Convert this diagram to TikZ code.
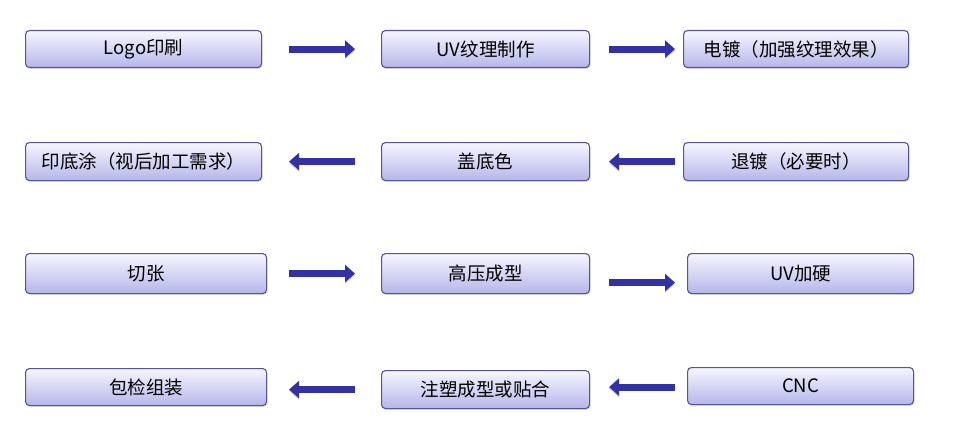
\documentclass[tikz,border=0pt]{standalone}
\usepackage{fontspec}
\setmainfont{Noto Sans CJK SC}
\usepackage{tikz}
\usetikzlibrary{arrows.meta,shadows}
\definecolor{boxline}{RGB}{84,84,150}
\definecolor{boxtop}{RGB}{246,246,255}
\definecolor{boxbottom}{RGB}{182,182,234}
\definecolor{arrowblue}{RGB}{50,50,165}
\tikzset{
    stepbox/.style={draw=boxline,line width=1.1pt,rounded corners=4pt,
        top color=boxtop,bottom color=boxbottom,anchor=north west,
        drop shadow={shadow xshift=1pt,shadow yshift=-1.5pt,opacity=0.25},
        inner sep=0pt,font=\fontsize{18.5}{22}\selectfont},
    flowarrow/.style={arrowblue,line width=7pt,-{Triangle[length=10pt,width=17pt]},
        preaction={draw=black,opacity=0.2,transform canvas={yshift=-1.5pt}}}
}

\begin{document}
\begin{tikzpicture}[x=1pt,y=-1pt]
                \useasboundingbox (0,0) rectangle (959,428);
                % first row
                \node[stepbox,minimum width=236pt,minimum height=37pt] (logo) at (25,30) {Logo印刷};
                \node[stepbox,minimum width=208pt,minimum height=37pt] (uvtex) at (381,30) {UV纹理制作};
                \node[stepbox,minimum width=225pt,minimum height=37pt] (plate) at (683,30) {电镀（加强纹理效果）};
                % second row
                \node[stepbox,minimum width=236pt,minimum height=38pt] (primer) at (25,142) {印底涂（视后加工需求）};
                \node[stepbox,minimum width=208pt,minimum height=38pt] (basecol) at (381,142) {盖底色};
                \node[stepbox,minimum width=225pt,minimum height=38pt] (strip) at (683,142) {退镀（必要时）};
                % third row
                \node[stepbox,minimum width=241pt,minimum height=40pt] (cut) at (25,253) {切张};
                \node[stepbox,minimum width=208pt,minimum height=40pt] (hpf) at (381,253) {高压成型};
                \node[stepbox,minimum width=226pt,minimum height=40pt] (uvhard) at (687,253) {UV加硬};
                % fourth row
                \node[stepbox,minimum width=241pt,minimum height=37pt] (pack) at (25,368) {包检组装};
                \node[stepbox,minimum width=208pt,minimum height=38pt] (mould) at (381,370) {注塑成型或贴合};
                \node[stepbox,minimum width=226pt,minimum height=37pt] (cnc) at (687,367) {CNC};

                \draw[flowarrow,shorten <=27pt,shorten >=26pt] (logo.east) -- (uvtex.west);
                \draw[flowarrow,shorten <=19pt,shorten >=8pt] (uvtex.east) -- (plate.west);
                \draw[flowarrow,shorten <=8pt,shorten >=19pt] (strip.west) -- (basecol.east);
                \draw[flowarrow,shorten <=26pt,shorten >=27pt] (basecol.west) -- (primer.east);
                \draw[flowarrow,shorten <=22pt,shorten >=26pt] (cut.east) -- (hpf.west);
                \draw[flowarrow,shorten <=19pt,shorten >=12pt] ([yshift=-9pt]hpf.east) -- ([yshift=-9pt]uvhard.west);
                \draw[flowarrow,shorten <=12pt,shorten >=19pt] ([yshift=-1pt]cnc.west) -- ([yshift=-1pt]cnc.west -| mould.east);
                \draw[flowarrow,shorten <=26pt,shorten >=22pt] (mould.west) -- (mould.west -| pack.east);
\end{tikzpicture}
\end{document}
